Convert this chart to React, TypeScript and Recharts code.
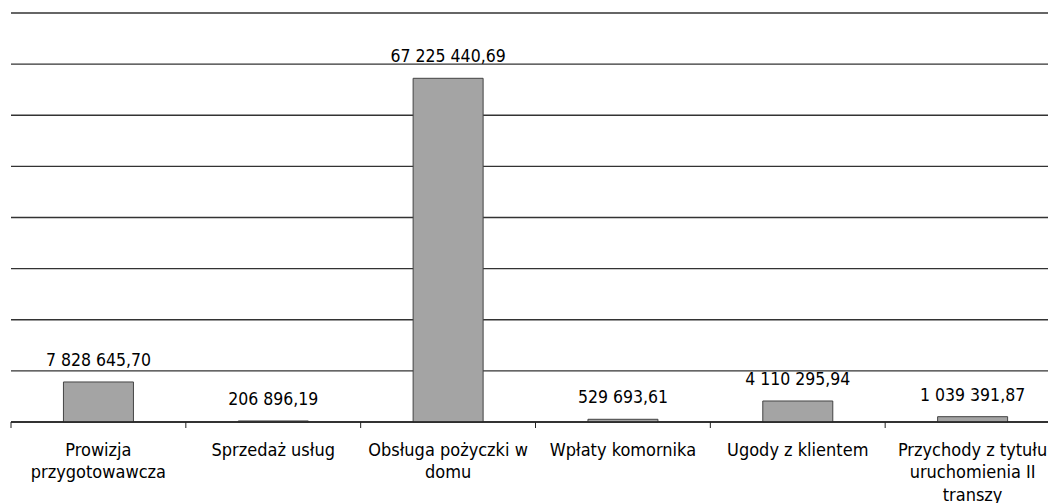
import React from "react";
import {
  BarChart,
  Bar,
  XAxis,
  YAxis,
  CartesianGrid,
  LabelList,
  Text,
} from "recharts";

const categories = [
  "Prowizja przygotowawcza",
  "Sprzedaż usług",
  "Obsługa pożyczki w domu",
  "Wpłaty komornika",
  "Ugody z klientem",
  "Przychody z tytułu uruchomienia II transzy",
];
const amounts = [7828645.7, 206896.19, 67225440.69, 529693.61, 4110295.94, 1039391.87];
const yTicks = [0, 10000000, 20000000, 30000000, 40000000, 50000000, 60000000, 70000000, 80000000];

const data = categories.map((name, i) => ({ name, value: amounts[i] }));

const FONT = "'DejaVu Sans Condensed', 'DejaVu Sans', sans-serif";
const CHART_W = 1060;
const CHART_H = 503;
const MARGIN = { top: 13, right: 0, bottom: 0, left: 11 };
const BAND = (CHART_W - MARGIN.left - MARGIN.right) / categories.length;

function formatPl(v: number) {
  const [int, dec] = v.toFixed(2).split(".");
  return int.replace(/\B(?=(\d{3})+(?!\d))/g, " ") + "," + dec;
}

function CategoryTick(props: any) {
  const { x, y, payload } = props;
  return (
    <g>
      <line x1={x - BAND / 2} y1={y - 8} x2={x - BAND / 2} y2={y - 2} stroke="#222" strokeWidth={1} />
      <Text
        x={x}
        y={y + 13}
        width={166}
        textAnchor="middle"
        verticalAnchor="start"
        lineHeight="1.25em"
        fill="#000"
        style={{ fontFamily: FONT, fontSize: 18 }}
      >
        {payload.value}
      </Text>
    </g>
  );
}

function ValueLabel(props: any) {
  const { x, y, width, value } = props;
  return (
    <text
      x={x + width / 2}
      y={y - 16}
      textAnchor="middle"
      fill="#000"
      style={{ fontFamily: FONT, fontSize: 17.5 }}
    >
      {formatPl(Number(value))}
    </text>
  );
}

export default function App() {
  return (
    <div style={{ position: "absolute", left: 0, top: 0, width: 1048, height: 503, overflow: "hidden", background: "#fff" }}>
      <BarChart width={CHART_W} height={CHART_H} data={data} margin={MARGIN} barCategoryGap="30%">
        <CartesianGrid vertical={false} stroke="#333" strokeWidth={1.3} />
        <XAxis
          dataKey="name"
          interval={0}
          height={81}
          axisLine={{ stroke: "#222", strokeWidth: 1.3 }}
          tickLine={false}
          tick={<CategoryTick />}
        />
        <YAxis hide domain={[0, 80000000]} ticks={yTicks} />
        <Bar dataKey="value" fill="#a4a4a4" stroke="#444" strokeWidth={1} isAnimationActive={false}>
          <LabelList dataKey="value" content={<ValueLabel />} />
        </Bar>
      </BarChart>
    </div>
  );
}
